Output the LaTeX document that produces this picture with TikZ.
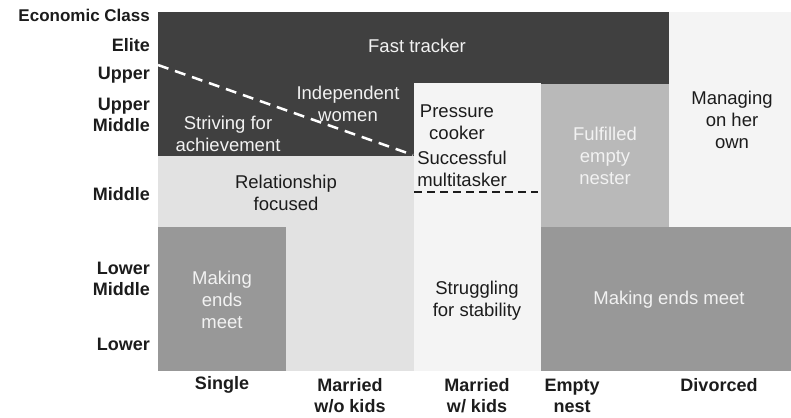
\documentclass[tikz,border=0pt]{standalone}
\usepackage{fontspec}
\setmainfont{Liberation Sans}
\usepackage{xcolor}
\usepackage{tikz}
\usetikzlibrary{positioning}

\definecolor{bandDark}{HTML}{404040}
\definecolor{bandMid}{HTML}{B9B9B9}
\definecolor{bandLow}{HTML}{989898}
\definecolor{bandLight}{HTML}{E2E2E2}
\definecolor{bandPale}{HTML}{F4F4F4}
\definecolor{inkDark}{HTML}{1C1C1C}

\tikzset{
  axislabel/.style={font=\fontsize{18}{21}\selectfont\bfseries, text=inkDark, align=right, anchor=east, inner sep=0pt},
  collabel/.style={font=\fontsize{18}{21}\selectfont\bfseries, text=inkDark, align=center, inner sep=0pt},
  darktext/.style={font=\fontsize{18.5}{22}\selectfont, text=inkDark, align=center, inner sep=0pt},
  lighttext/.style={font=\fontsize{18.5}{22}\selectfont, text=white!95!black, align=center, inner sep=0pt}
}

\begin{document}
\begin{tikzpicture}[x=1pt,y=-1pt]
    \useasboundingbox (0,0) rectangle (791,417);

    % Class blocks
    \fill[bandDark] (158,12) rectangle (669,156);
    \fill[bandPale] (669,12) rectangle (791,227);
    \fill[bandPale] (414,83) rectangle (541,371);
    \fill[bandMid] (541,84) rectangle (669,227);
    \fill[bandLight] (158,156) rectangle (414,371);
    \fill[bandLow] (158,227) rectangle (286,371);
    \fill[bandLow] (541,227) rectangle (791,371);

    % Dashed dividers
    \coordinate (upperL) at (158,65);
    \coordinate (kidsTop) at (413,155);
    \draw[white, line width=2.5pt, dash pattern=on 11pt off 7pt] (upperL) -- (kidsTop);
    \coordinate (midL) at (414,192);
    \coordinate (midR) at (538,192);
    \draw[inkDark, line width=2.2pt, dash pattern=on 8pt off 5pt] (midL) -- (midR);

    % Block texts
    \node[lighttext] (fast) at (417,46) {Fast tracker};
    \node[lighttext] (indep) at (348,104) {Independent\\women};
    \node[lighttext] (striving) at (228,134) {Striving for\\achievement};
    \node[darktext] (relation) at (286,193) {Relationship\\focused};
    \node[darktext] (pressure) at (457,122) {Pressure\\cooker};
    \node[darktext] (multi) at (462,169) {Successful\\multitasker};
    \node[lighttext] (fulfilled) at (605,156) {Fulfilled\\empty\\nester};
    \node[darktext] (managing) at (732,120) {Managing\\on her\\own};
    \node[lighttext] (endsL) at (222,300) {Making\\ends\\meet};
    \node[darktext] (struggle) at (477,301) {Struggling\\for stability};
    \node[lighttext] (endsR) at (669,300) {Making ends meet};

    % Economic class axis
    \node[axislabel, font=\fontsize{17}{20}\selectfont\bfseries] (econ) at (150,15) {Economic Class};
    \node[axislabel] (elite) at (150,45) {Elite};
    \node[axislabel] (upper) at (150,75) {Upper};
    \node[axislabel] (uppermid) at (150,115) {Upper\\Middle};
    \node[axislabel] (middle) at (150,194) {Middle};
    \node[axislabel] (lowermid) at (150,279) {Lower\\Middle};
    \node[axislabel] (lower) at (150,344) {Lower};

    % Life stage axis
    \node[collabel] (single) at (222,385) {Single};
    \node[collabel] (nokids) at (350,396) {Married\\w/o kids};
    \node[collabel] (kids) at (477,396) {Married\\w/ kids};
    \node[collabel] (nest) at (572,396) {Empty\\nest};
    \node[collabel] (divorced) at (719,385) {Divorced};
\end{tikzpicture}
\end{document}
